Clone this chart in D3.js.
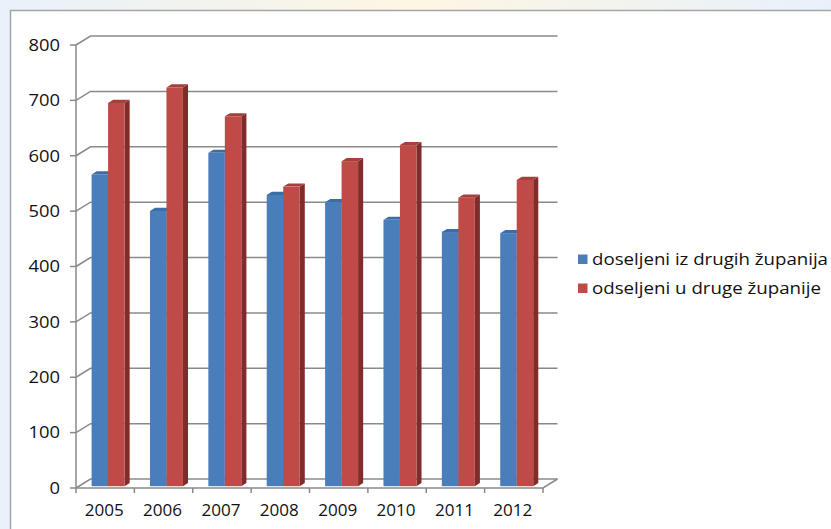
<!DOCTYPE html>
<html>
<head>
<meta charset="utf-8">
<script src="https://cdn.jsdelivr.net/npm/d3@7"></script>
<style>
  html, body { margin: 0; padding: 0; background: #fff; }
  svg { display: block; }
  text { font-family: "Open Sans", "Noto Sans", sans-serif; fill: #111; }
</style>
</head>
<body>
<div class="chart"></div>
<script>
// data
const years = ["2005", "2006", "2007", "2008", "2009", "2010", "2011", "2012"];
const seriesNames = ["doseljeni iz drugih županija", "odseljeni u druge županije"];
const doseljeni = [563, 497, 602, 526, 513, 481, 459, 457];
const odseljeni = [692, 720, 668, 541, 587, 616, 521, 553];
const yTicks = [0, 100, 200, 300, 400, 500, 600, 700, 800];

const W = 831, H = 529;
const front = { left: 76, right: 543, bottom: 488, top: 45 };
const depth = { dx: 14.5, dy: -9 };          // offset of the back wall
const barD0 = 0.2, barD1 = 0.55;             // bar front / back depth fraction

const faces = [
  { front: "#4a7ebb", side: "#2f5b8f", top: "#3d6ca6" },
  { front: "#be4b48", side: "#7f2c2a", top: "#a53f3c" }
];

const svg = d3.select(".chart").append("svg")
  .attr("width", W).attr("height", H);

// slide background round the chart frame
const defs = svg.append("defs");
const bg = defs.append("linearGradient").attr("id", "bg")
  .attr("x1", "0").attr("y1", "0").attr("x2", "1").attr("y2", "0");
bg.append("stop").attr("offset", "0").attr("stop-color", "#e9f1fa");
bg.append("stop").attr("offset", "0.5").attr("stop-color", "#fdf6e3");
bg.append("stop").attr("offset", "1").attr("stop-color", "#e8f1fb");
svg.append("rect").attr("width", W).attr("height", H).attr("fill", "url(#bg)");
svg.append("rect")
  .attr("x", 10.5).attr("y", 10.5).attr("width", W + 20).attr("height", H + 20)
  .attr("fill", "#fff").attr("stroke", "#a6a6a6").attr("stroke-width", 1.5);

const x = d3.scaleBand().domain(years).range([front.left, front.right]);
const y = d3.scaleLinear().domain([0, 800]).range([front.bottom, front.top]);
const inner = d3.scaleBand().domain([0, 1]).range([0, x.bandwidth()])
  .paddingInner(0).paddingOuter(0.77);

const grid = svg.append("g").attr("stroke", "#8a8a8a").attr("stroke-width", 1.5)
  .attr("fill", "none");

// back wall gridlines and side wall diagonals
yTicks.forEach(v => {
  const yf = y(v), yb = y(v) + depth.dy;
  grid.append("path")
    .attr("d", d3.line()([[front.left, yf], [front.left + depth.dx, yb],
      [front.right + depth.dx, yb]]));
  grid.append("line")
    .attr("x1", front.left - 6).attr("x2", front.left)
    .attr("y1", yf).attr("y2", yf);
});

// floor front edge and right diagonal
grid.append("path")
  .attr("d", d3.line()([[front.left, front.bottom], [front.right, front.bottom],
    [front.right + depth.dx, front.bottom + depth.dy]]));
// vertical axis
grid.append("line")
  .attr("x1", front.left).attr("x2", front.left)
  .attr("y1", front.top).attr("y2", front.bottom);
// category ticks
years.concat(["end"]).forEach((yr, i) => {
  const xx = front.left + i * x.step();
  grid.append("line").attr("x1", xx).attr("x2", xx)
    .attr("y1", front.bottom).attr("y2", front.bottom + 5);
});

// bars
const bars = svg.append("g");
const values = [doseljeni, odseljeni];
years.forEach((yr, i) => {
  values.forEach((vals, s) => {
    const v = vals[i];
    const ox = barD0 * depth.dx, oy = barD0 * depth.dy;
    const sx = (barD1 - barD0) * depth.dx, sy = (barD1 - barD0) * depth.dy;
    const x0 = x(yr) + inner(s) + ox, x1 = x0 + inner.bandwidth();
    const yb = y(0) + oy, yt = y(v) + oy;
    const c = faces[s];
    bars.append("path").attr("fill", c.side)
      .attr("d", d3.line()([[x1, yb], [x1, yt], [x1 + sx, yt + sy], [x1 + sx, yb + sy]]) + "Z");
    bars.append("path").attr("fill", c.top)
      .attr("d", d3.line()([[x0, yt], [x1, yt], [x1 + sx, yt + sy], [x0 + sx, yt + sy]]) + "Z");
    bars.append("rect").attr("fill", c.front)
      .attr("x", x0).attr("y", yt).attr("width", x1 - x0).attr("height", yb - yt);
  });
});

// y labels
svg.append("g").selectAll("text").data(yTicks).join("text")
  .attr("x", 60).attr("y", d => y(d)).attr("dy", "0.36em")
  .attr("text-anchor", "end").attr("font-size", 16)
  .attr("textLength", d => String(d).length * 10.5)
  .attr("lengthAdjust", "spacingAndGlyphs")
  .text(d => d);

// x labels
svg.append("g").selectAll("text").data(years).join("text")
  .attr("x", d => x(d) + x.bandwidth() / 2 - 1).attr("y", 510).attr("dy", "0.36em")
  .attr("text-anchor", "middle").attr("font-size", 16)
  .attr("textLength", 39).attr("lengthAdjust", "spacingAndGlyphs")
  .text(d => d);

// legend
const legend = svg.append("g");
seriesNames.forEach((name, s) => {
  const ly = 259 + s * 29;
  legend.append("rect").attr("x", 578).attr("y", ly - 4.5)
    .attr("width", 9.5).attr("height", 9.5).attr("fill", faces[s].front);
  legend.append("text").attr("x", 592).attr("y", ly).attr("dy", "0.36em")
    .attr("font-size", 16.5)
    .attr("textLength", s === 0 ? 236 : 229).attr("lengthAdjust", "spacingAndGlyphs")
    .text(name);
});
</script>
</body>
</html>
